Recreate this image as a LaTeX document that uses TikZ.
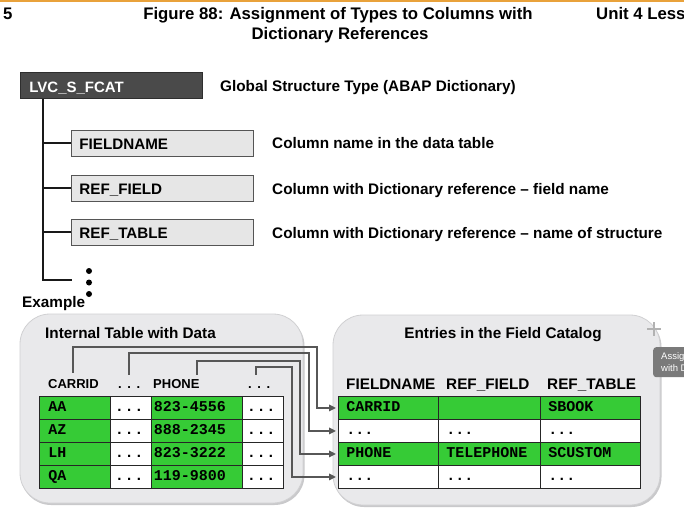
\documentclass[tikz,border=0pt]{standalone}
\usepackage{fontspec}
\setmainfont{Liberation Sans}
\setmonofont{Liberation Mono}
\usetikzlibrary{arrows.meta}
\definecolor{barorange}{HTML}{E9A23B}
\definecolor{rootfill}{HTML}{4A4A4A}
\definecolor{rootrim}{HTML}{2E2E2E}
\definecolor{fieldfill}{HTML}{E6E6E6}
\definecolor{fieldrim}{HTML}{555555}
\definecolor{panelfill}{HTML}{E9E9EB}
\definecolor{panelrim}{HTML}{D0D0D2}
\definecolor{panelshade}{HTML}{C9C9CB}
\definecolor{tgreen}{HTML}{36CB36}
\definecolor{tline}{HTML}{262626}
\definecolor{conngray}{HTML}{575757}
\definecolor{tipgray}{HTML}{7A7A7A}
\newcommand\sdots{.\hspace{5.6pt}.\hspace{5.6pt}.}
\newcommand\mdots{.{}.{}.}
\begin{document}
\begin{tikzpicture}[x=1pt,y=-1pt,
  ttl/.style={font=\fontsize{16.75}{20}\selectfont\bfseries, inner sep=0pt},
  txt/.style={font=\fontsize{15.3}{18}\selectfont\bfseries, inner sep=0pt, anchor=base west},
  hsmall/.style={font=\fontsize{13}{16}\selectfont\bfseries, inner sep=0pt, anchor=base west, text height=10pt, text depth=0pt},
  rootbox/.style={anchor=north west, fill=rootfill, draw=rootrim, line width=0.8pt, text=white,
    minimum width=182pt, minimum height=26pt, inner xsep=9pt, inner ysep=0pt, text width=164pt,
    align=left, text height=14pt, text depth=0pt, font=\fontsize{15}{18}\selectfont\bfseries},
  fieldbox/.style={anchor=north west, fill=fieldfill, draw=fieldrim, line width=0.8pt,
    minimum width=182pt, minimum height=26pt, inner xsep=8pt, inner ysep=0pt, text width=166pt,
    align=left, text height=12pt, text depth=0pt, font=\fontsize{15.2}{18}\selectfont\bfseries},
  tree/.style={draw=black!90, line width=2pt},
  panel/.style={fill=panelfill, draw=panelrim, line width=0.8pt, rounded corners=30pt},
  shade/.style={fill=panelshade, rounded corners=30pt},
  cell/.style={anchor=north west, draw=tline, line width=0.9pt, minimum height=23pt,
    inner ysep=0pt, align=left, text height=10pt, text depth=3pt,
    font=\fontsize{15}{18}\selectfont\ttfamily\bfseries},
  conn/.style={draw=conngray, line width=2pt, -{Triangle[length=7pt,width=6.5pt]}, shorten >=2pt},
]
\useasboundingbox (0,0) rectangle (684,513);
\clip (0,0) rectangle (684,513);

% page header
\fill[barorange] (0,0) rectangle (684,2.5);
\node[ttl, anchor=base west] (pg) at (3,20) {5};
\node[ttl, anchor=base] (title1) at (338,20) {Figure 88: Assignment of Types to Columns with};
\node[ttl, anchor=base] (title2) at (340,40) {Dictionary References};
\node[ttl, anchor=base west] (unit) at (596,20) {Unit 4 Less};

% structure type and its components
\node[rootbox] (root) at (20,72) {LVC\_S\_FCAT};
\node[fieldbox] (fn) at (71,130) {FIELDNAME};
\node[fieldbox] (rf) at (71,175) {REF\_FIELD};
\node[fieldbox] (rt) at (71,219) {REF\_TABLE};
\coordinate (tend) at (72,280);
\draw[tree] ([xshift=23pt]root.south west) |- (tend);
\draw[tree] (fn.west) -- ++(-28,0);
\draw[tree] (rf.west) -- ++(-28,0);
\draw[tree] (rt.west) -- ++(-28,0);
\fill (89,271) circle (3pt);
\fill (89,282.5) circle (3pt);
\fill (89,294) circle (3pt);

\node[txt] (dglobal) at (220,92) {Global Structure Type (ABAP Dictionary)};
\node[txt] (dfn) at (272,149) {Column name in the data table};
\node[txt] (drf) at (272,194) {Column with Dictionary reference – field name};
\node[txt] (drt) at (272,238) {Column with Dictionary reference – name of structure};

\node[txt] (ex) at (22,307) {Example};

% panels
\fill[shade] (21,316) rectangle (304.5,505);
\draw[panel] (20,314) rectangle (303,503);
\fill[shade] (334,317) rectangle (661.5,507);
\draw[panel] (333,315) rectangle (660,505);

\node[txt] (lhead) at (45,338) {Internal Table with Data};
\node[txt, anchor=base] (rhead) at (503,338) {Entries in the Field Catalog};

% internal table
\node[hsmall] (hc1) at (48,388) {CARRID};
\node[hsmall] (hc2) at (118,388) {\sdots};
\node[hsmall] (hc3) at (153,388) {PHONE};
\node[hsmall] (hc4) at (248,388) {\sdots};
\foreach \r/\y/\a/\b in {1/396/AA/823-4556,2/419/AZ/888-2345,3/442/LH/823-3222,4/465/QA/119-9800}{
  \node[cell, fill=tgreen, inner xsep=9pt, text width=53pt] (L\r-1) at (39,\y) {\a};
  \node[cell, fill=white, inner xsep=7pt, text width=27pt] (L\r-2) at (110,\y) {\rmfamily\sdots};
  \node[cell, fill=tgreen, inner xsep=2.5pt, text width=86pt] (L\r-3) at (151,\y) {\b};
  \node[cell, fill=white, inner xsep=7pt, text width=27pt] (L\r-4) at (242,\y) {\rmfamily\sdots};
}

% field catalog
\node[txt] (fc1) at (346,389) {FIELDNAME};
\node[txt] (fc2) at (446,389) {REF\_FIELD};
\node[txt] (fc3) at (547,389) {REF\_TABLE};
\foreach \r/\y/\f/\a/\b/\c in {1/396/tgreen/CARRID/{}/SBOOK,2/419/white/\mdots/\mdots/\mdots,3/442/tgreen/PHONE/TELEPHONE/SCUSTOM,4/465/white/\mdots/\mdots/\mdots}{
  \node[cell, fill=\f, inner xsep=8pt, text width=84pt] (R\r-1) at (338,\y) {\a};
  \node[cell, fill=\f, inner xsep=8pt, text width=86pt] (R\r-2) at (438,\y) {\b};
  \node[cell, fill=\f, inner xsep=8pt, text width=84pt] (R\r-3) at (540,\y) {\c};
}

% column-to-entry connectors
\coordinate (k1) at (317,347);
\coordinate (k2) at (309,353);
\coordinate (k3) at (300,361);
\coordinate (k4) at (292,367);
\draw[conn] ([yshift=5pt]hc1.north) |- (k1) |- (R1-1.west);
\draw[conn] ([yshift=3pt]hc2.north) |- (k2) |- (R2-1.west);
\draw[conn] ([xshift=-3pt,yshift=3pt]hc3.north east) |- (k3) |- (R3-1.west);
\draw[conn] ([xshift=-3pt,yshift=3pt]hc4.north) |- (k4) |- (R4-1.west);

% pointer and tooltip
\draw[black!30, line width=1.2pt] (647,329) -- (661,329) (654,322) -- (654,336);
\node[anchor=north west, fill=tipgray, rounded corners=3pt, minimum width=44pt, minimum height=30pt,
  inner xsep=8pt, inner ysep=4pt, text=white, align=left,
  font=\fontsize{9.5}{11.5}\selectfont] (tip) at (653,347) {Assign\\with D};
\end{tikzpicture}
\end{document}
